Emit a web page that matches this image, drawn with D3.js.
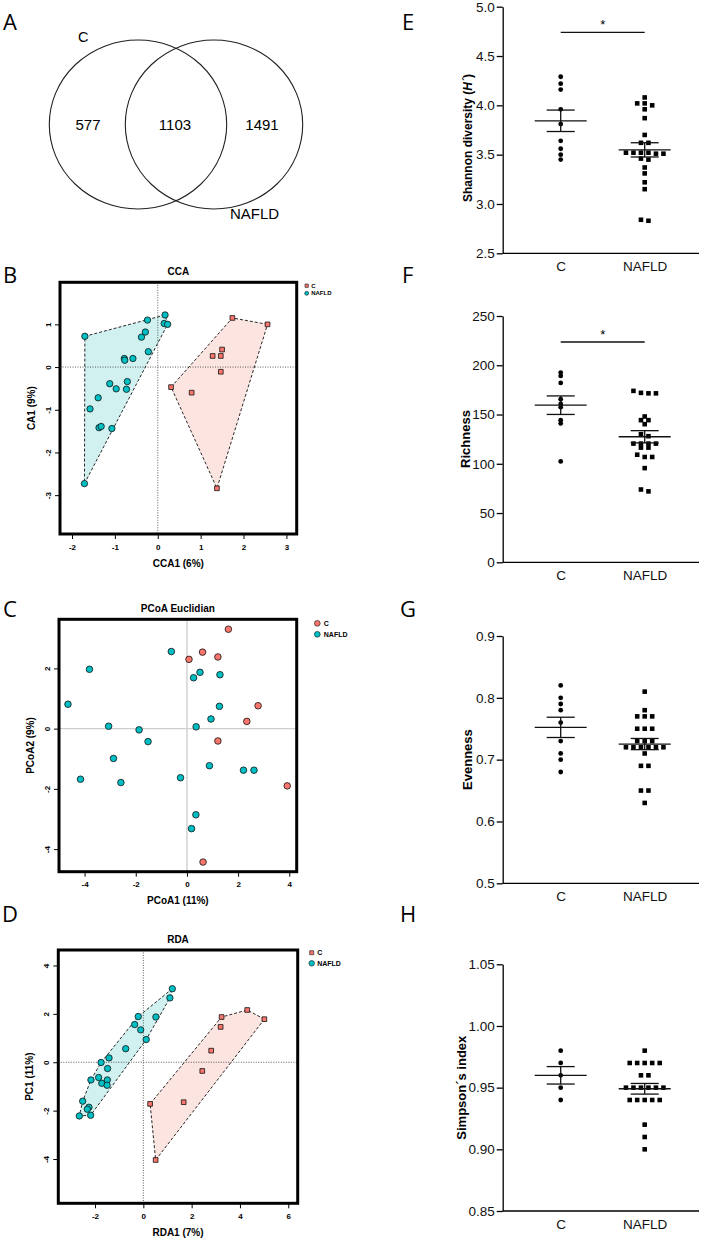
<!DOCTYPE html>
<html>
<head>
<meta charset="utf-8">
<script src="https://cdn.jsdelivr.net/npm/d3@7"></script>
<style>
  body { margin: 0; background: #fff; }
  svg { display: block; font-family: "Liberation Sans", Arial, sans-serif; }
</style>
</head>
<body>
<div id="fig"></div>
<script>
// ---------- data ----------
const groups = ["C", "NAFLD"];
const vennCounts = [577, 1103, 1491];

// CCA scores [CCA1, CA1]
const ccaC = [[1.74,1.15],[2.56,1.00],[1.50,0.41],[1.28,0.26],[1.47,0.26],[1.47,-0.11],[0.31,-0.47],[0.79,-0.60],[1.38,-2.84]];
const ccaNAFLD = [[-1.70,0.72],[-1.71,-2.73],[-0.24,1.10],[0.17,1.22],[0.15,1.02],[0.23,1.00],[-0.29,0.82],[-0.38,0.70],
  [-0.22,0.36],[-0.78,0.20],[-0.77,0.16],[-0.58,0.20],[-1.12,-0.39],[-0.97,-0.51],[-0.71,-0.34],[-0.73,-0.52],
  [-1.39,-0.72],[-1.58,-0.98],[-1.37,-1.42],[-1.32,-1.39],[-1.07,-1.44]];

// PCoA scores [PCoA1, PCoA2]
const pcoaC = [[1.62,3.30],[0.61,2.54],[1.21,2.38],[0.08,2.30],[2.78,0.76],[2.34,0.24],[1.21,-0.41],[3.92,-1.90],[0.63,-4.43]];
const pcoaNAFLD = [[-0.61,2.56],[-3.81,1.97],[0.51,1.87],[0.26,1.69],[1.29,1.79],[-4.65,0.81],[1.27,0.74],[0.94,0.32],
  [-3.06,0.08],[0.36,0.06],[-1.87,-0.04],[-1.52,-0.43],[-2.87,-0.99],[0.88,-1.23],[2.21,-1.38],[2.62,-1.38],
  [-4.16,-1.68],[-2.58,-1.79],[-0.25,-1.63],[0.35,-2.86],[0.18,-3.32]];

// RDA scores [RDA1, PC1]
const rdaC = [[4.30,2.16],[5.01,1.78],[3.24,1.87],[3.20,1.46],[2.81,0.48],[2.44,-0.36],[1.67,-1.65],[0.28,-1.72],[0.51,-4.04]];
const rdaNAFLD = [[1.20,3.04],[1.10,2.66],[-0.21,1.89],[0.52,1.87],[-0.36,1.56],[-0.11,1.34],[0.12,0.94],[-0.73,0.56],
  [-1.42,0.18],[-1.75,-0.01],[-1.48,-0.26],[-2.17,-0.73],[-1.85,-0.63],[-1.49,-0.73],[-1.72,-0.87],[-1.50,-0.95],
  [-2.51,-1.61],[-2.25,-1.86],[-2.32,-1.94],[-2.18,-2.19],[-2.65,-2.22]];

// alpha diversity
const shannonC = [4.29,4.22,4.16,3.96,3.81,3.64,3.56,3.50,3.45];
const shannonNAFLD = [4.08,4.02,4.02,4.00,3.96,3.87,3.70,3.62,3.62,3.52,3.52,3.52,3.52,3.51,3.51,3.46,3.45,3.37,3.31,3.22,3.15,2.84,2.83];
const richnessC = [192.6,189.2,182.1,165.5,160.8,157.4,144.3,141,102.4];
const richnessNAFLD = [174,172,171.5,171.5,148,144.3,144.3,140.2,130,128,120.5,120.5,120.5,120.5,116.4,116.4,109.2,106.9,106.9,95.6,73.9,72];
const evennessC = [0.82,0.80,0.79,0.78,0.76,0.73,0.71,0.70,0.68];
const evennessNAFLD = [0.81,0.78,0.77,0.77,0.77,0.75,0.75,0.75,0.73,0.73,0.73,0.72,0.72,0.72,0.72,0.72,0.72,0.71,0.69,0.69,0.65,0.65,0.63];
const simpsonC = [0.98,0.97,0.96,0.95,0.94];
const simpsonNAFLD = [0.98,0.97,0.97,0.97,0.97,0.97,0.96,0.96,0.95,0.95,0.95,0.95,0.95,0.95,0.94,0.94,0.94,0.94,0.94,0.92,0.91,0.90];

// ---------- setup ----------
const red = "#F8766D", teal = "#00BFC4";
const font = "Liberation Sans, Arial, sans-serif";
const svg = d3.select("#fig").append("svg").attr("width", 703).attr("height", 1240);

// panel letters
[["A",3,30],["B",3,283],["C",3,617],["D",2,922],["E",402,30],["F",402,283],["G",400,617],["H",400,922]]
  .forEach(([t, x, y]) => svg.append("text").attr("x", x).attr("y", y)
    .attr("font-family", "Open Sans, sans-serif").attr("font-size", 22).text(t));

// ---------- Venn (A) ----------
const venn = svg.append("g");
[[138, 124.5], [214, 124.5]].forEach(([cx, cy]) =>
  venn.append("ellipse").attr("cx", cx).attr("cy", cy).attr("rx", 88.7).attr("ry", 84.5)
    .attr("fill", "none").attr("stroke", "#222").attr("stroke-width", 1.1));
[88, 175, 262].forEach((cx, i) =>
  venn.append("text").attr("x", cx).attr("y", 130).attr("text-anchor", "middle")
    .attr("font-size", 15).text(vennCounts[i]));
venn.append("text").attr("x", 78).attr("y", 42).attr("font-size", 14.5).text(groups[0]);
venn.append("text").attr("x", 230).attr("y", 219).attr("font-size", 15).text(groups[1]);

// ---------- ordination panels ----------
function ordPanel(cfg) {
  const g = svg.append("g");
  const x = d3.scaleLinear().domain(cfg.xDomain).range([cfg.left, cfg.right]);
  const y = d3.scaleLinear().domain(cfg.yDomain).range([cfg.bottom, cfg.top]);
  const series = [
    { pts: cfg.c, color: red, hullFill: "#FCE4E0", shape: cfg.cShape },
    { pts: cfg.n, color: teal, hullFill: "#D1F0F0", shape: d3.symbolCircle }
  ];
  const hulls = cfg.hull ? series.map(s => d3.polygonHull(s.pts.map(p => [x(p[0]), y(p[1])]))) : [];
  hulls.forEach((h, i) => g.append("path").attr("d", "M" + h.join("L") + "Z").attr("fill", series[i].hullFill));

  // zero lines
  const zl = cfg.dotted
    ? l => l.attr("stroke", "#333").attr("stroke-width", 0.8).attr("stroke-dasharray", "1,1.5")
    : l => l.attr("stroke", "#cfcfcf").attr("stroke-width", 1.4);
  g.append("line").attr("x1", x(0)).attr("x2", x(0)).attr("y1", cfg.top).attr("y2", cfg.bottom).call(zl);
  g.append("line").attr("x1", cfg.left).attr("x2", cfg.right).attr("y1", y(0)).attr("y2", y(0)).call(zl);

  hulls.forEach(h => g.append("path").attr("d", "M" + h.join("L") + "Z")
    .attr("fill", "none").attr("stroke", "#111").attr("stroke-width", 0.9).attr("stroke-dasharray", "3,2"));

  series.forEach(s => {
    const sym = d3.symbol().type(s.shape).size(s.shape === d3.symbolSquare ? cfg.sqSize : cfg.ptSize);
    g.append("g").selectAll("path").data(s.pts).join("path")
      .attr("transform", d => `translate(${x(d[0])},${y(d[1])})`)
      .attr("d", sym).attr("fill", s.color).attr("stroke", "#111").attr("stroke-width", 0.8);
  });

  g.append("rect").attr("x", cfg.left).attr("y", cfg.top)
    .attr("width", cfg.right - cfg.left).attr("height", cfg.bottom - cfg.top)
    .attr("fill", "none").attr("stroke", "#000").attr("stroke-width", 3);

  // axes
  const styleAxis = a => a.attr("font-family", font).attr("font-size", 8).attr("font-weight", "bold")
    .call(a => a.select(".domain").remove())
    .call(a => a.selectAll("line").attr("stroke-width", 1));
  g.append("g").attr("transform", `translate(0,${cfg.bottom})`)
    .call(d3.axisBottom(x).tickValues(cfg.xTicks).tickSize(5).tickPadding(5).tickFormat(String))
    .call(styleAxis);
  g.append("g").attr("transform", `translate(${cfg.left},0)`)
    .call(d3.axisLeft(y).tickValues(cfg.yTicks).tickSize(5).tickFormat(String))
    .call(styleAxis)
    .call(a => a.selectAll("text").attr("x", 0).attr("dy", null).attr("text-anchor", "middle")
      .attr("transform", "translate(-9,0) rotate(-90)"));

  // titles
  const cx = (cfg.left + cfg.right) / 2, cy = (cfg.top + cfg.bottom) / 2;
  const bold = t => t.attr("font-weight", "bold").attr("font-size", 10).attr("text-anchor", "middle");
  g.append("text").attr("x", cx).attr("y", cfg.top - 7).call(bold).text(cfg.title);
  g.append("text").attr("x", cx).attr("y", cfg.bottom + 32.5).call(bold).text(cfg.xLabel);
  g.append("text").attr("transform", `translate(${cfg.left - 25.5},${cy}) rotate(-90)`).call(bold).text(cfg.yLabel);

  // legend
  const lg = cfg.legend;
  [[cfg.cShape, red, lg.y1, cfg.cShape === d3.symbolSquare ? lg.sq : lg.pt], [d3.symbolCircle, teal, lg.y2, lg.pt]]
    .forEach(([shape, col, ly, size], i) => {
      g.append("path").attr("transform", `translate(${lg.x},${ly})`)
        .attr("d", d3.symbol().type(shape).size(size)).attr("fill", col)
        .attr("stroke", "#111").attr("stroke-width", 0.6);
      g.append("text").attr("x", lg.x + lg.dx).attr("y", ly + lg.fs * 0.36).attr("font-size", lg.fs)
        .attr("font-weight", "bold").text(groups[i]);
    });
}

ordPanel({ c: ccaC, n: ccaNAFLD, cShape: d3.symbolSquare, hull: true, dotted: true,
  left: 60, right: 296.7, top: 282.3, bottom: 534, xDomain: [-2.28, 3.24], yDomain: [-3.91, 1.985],
  xTicks: [-2,-1,0,1,2,3], yTicks: [-3,-2,-1,0,1], ptSize: 32, sqSize: 22,
  title: "CCA", xLabel: "CCA1 (6%)", yLabel: "CA1 (9%)",
  legend: { x: 306.7, y1: 285.7, y2: 293.3, dx: 4.5, fs: 6, sq: 11, pt: 12 } });

ordPanel({ c: pcoaC, n: pcoaNAFLD, cShape: d3.symbolCircle, hull: false, dotted: false,
  left: 59, right: 296.7, top: 619.3, bottom: 871.7, xDomain: [-5.0, 4.29], yDomain: [-4.75, 3.63],
  xTicks: [-4,-2,0,2,4], yTicks: [-4,-2,0,2], ptSize: 34, sqSize: 22,
  title: "PCoA Euclidian", xLabel: "PCoA1 (11%)", yLabel: "PCoA2 (9%)",
  legend: { x: 317.3, y1: 623.3, y2: 634.3, dx: 6.5, fs: 7, sq: 16, pt: 26 } });

ordPanel({ c: rdaC, n: rdaNAFLD, cShape: d3.symbolSquare, hull: true, dotted: true,
  left: 58.3, right: 297.7, top: 950, bottom: 1203.3, xDomain: [-3.52, 6.39], yDomain: [-5.83, 4.64],
  xTicks: [-2,0,2,4,6], yTicks: [-4,-2,0,2,4], ptSize: 32, sqSize: 22,
  title: "RDA", xLabel: "RDA1 (7%)", yLabel: "PC1 (11%)",
  legend: { x: 311.7, y1: 952.7, y2: 963.3, dx: 5.5, fs: 7, sq: 16, pt: 24 } });

// ---------- dot plots with mean ± SEM ----------
function swarm(values, y, spacing) {
  const rows = [];
  values.slice().sort((a, b) => b - a).forEach(v => {
    const r = rows[rows.length - 1];
    if (r && Math.abs(y(r[0]) - y(v)) <= 3) r.push(v); else rows.push([v]);
  });
  return rows.flatMap(r => r.map((v, i) => ({ v, dx: (i - (r.length - 1) / 2) * spacing })));
}

function dotPanel(cfg) {
  const x0 = 502.7, width = 196.3;
  const g = svg.append("g").attr("transform", `translate(${x0},0)`);
  const y = d3.scaleLinear().domain(cfg.domain).range([cfg.bottom, cfg.top]);
  const x = d3.scalePoint().domain(groups).range([58, 142]);

  g.append("g").call(d3.axisLeft(y).tickValues(cfg.ticks).tickFormat(d3.format(cfg.fmt))
      .tickSize(6).tickSizeOuter(0).tickPadding(2))
    .attr("font-family", font).attr("font-size", 13.5)
    .call(a => a.selectAll("line,path").attr("stroke-width", 1.3))
    .call(a => a.selectAll("text").attr("fill", "#111"));
  g.append("line").attr("x1", 0).attr("x2", width).attr("y1", cfg.bottom).attr("y2", cfg.bottom)
    .attr("stroke", "#000").attr("stroke-width", 1.3);
  g.append("g").attr("transform", `translate(0,${cfg.bottom})`)
    .call(d3.axisBottom(x).tickSize(0).tickPadding(8))
    .attr("font-family", font).attr("font-size", 13.5)
    .call(a => a.select(".domain").remove())
    .call(a => a.selectAll("text").attr("fill", "#111"));

  const t = g.append("text").attr("transform", `translate(${cfg.titleX - x0},${cfg.titleY}) rotate(-90)`)
    .attr("text-anchor", "middle").attr("font-weight", "bold").attr("font-size", cfg.titleSize);
  cfg.title.forEach(([s, it]) => t.append("tspan").attr("font-style", it ? "italic" : null).text(s));

  [[cfg.c, d3.symbolCircle, 18], [cfg.n, d3.symbolSquare, 21]].forEach(([vals, shape, size], i) => {
    const cxp = x(groups[i]);
    g.append("g").selectAll("path").data(swarm(vals, y, 7.5)).join("path")
      .attr("transform", d => `translate(${cxp + d.dx},${y(d.v)})`)
      .attr("d", d3.symbol().type(shape).size(size)).attr("fill", "#000");
    const m = d3.mean(vals), se = d3.deviation(vals) / Math.sqrt(vals.length);
    const ln = (x1, x2, y1, y2) => g.append("line").attr("x1", x1).attr("x2", x2).attr("y1", y1).attr("y2", y2)
      .attr("stroke", "#111").attr("stroke-width", 1.3);
    ln(cxp - 26, cxp + 26, y(m), y(m));
    ln(cxp - 14, cxp + 14, y(m + se), y(m + se));
    ln(cxp - 14, cxp + 14, y(m - se), y(m - se));
    ln(cxp, cxp, y(m + se), y(m - se));
  });

  if (cfg.sigY) {
    g.append("line").attr("x1", x(groups[0])).attr("x2", x(groups[1]))
      .attr("y1", cfg.sigY).attr("y2", cfg.sigY).attr("stroke", "#111").attr("stroke-width", 1.3);
    g.append("text").attr("x", (x(groups[0]) + x(groups[1])) / 2).attr("y", cfg.sigY - 3.5)
      .attr("text-anchor", "middle").attr("font-size", 13).text("*");
  }
}

dotPanel({ c: shannonC, n: shannonNAFLD, domain: [2.5, 5], ticks: [2.5, 3, 3.5, 4, 4.5, 5], fmt: ".1f",
  top: 6.7, bottom: 253.3, sigY: 32.3, titleX: 472, titleY: 138, titleSize: 12,
  title: [["Shannon diversity (", false], ["H´", true], [")", false]] });
dotPanel({ c: richnessC, n: richnessNAFLD, domain: [0, 250], ticks: [0, 50, 100, 150, 200, 250], fmt: "d",
  top: 316, bottom: 562.3, sigY: 342, titleX: 469.5, titleY: 439, titleSize: 13,
  title: [["Richness", false]] });
dotPanel({ c: evennessC, n: evennessNAFLD, domain: [0.5, 0.9], ticks: [0.5, 0.6, 0.7, 0.8, 0.9], fmt: ".1f",
  top: 636, bottom: 883.3, titleX: 472, titleY: 759.6, titleSize: 13,
  title: [["Evenness", false]] });
dotPanel({ c: simpsonC, n: simpsonNAFLD, domain: [0.85, 1.05], ticks: [0.85, 0.9, 0.95, 1.0, 1.05], fmt: ".2f",
  top: 964.3, bottom: 1211, titleX: 466, titleY: 1087.7, titleSize: 13,
  title: [["Simpson´s index", false]] });
</script>
</body>
</html>
